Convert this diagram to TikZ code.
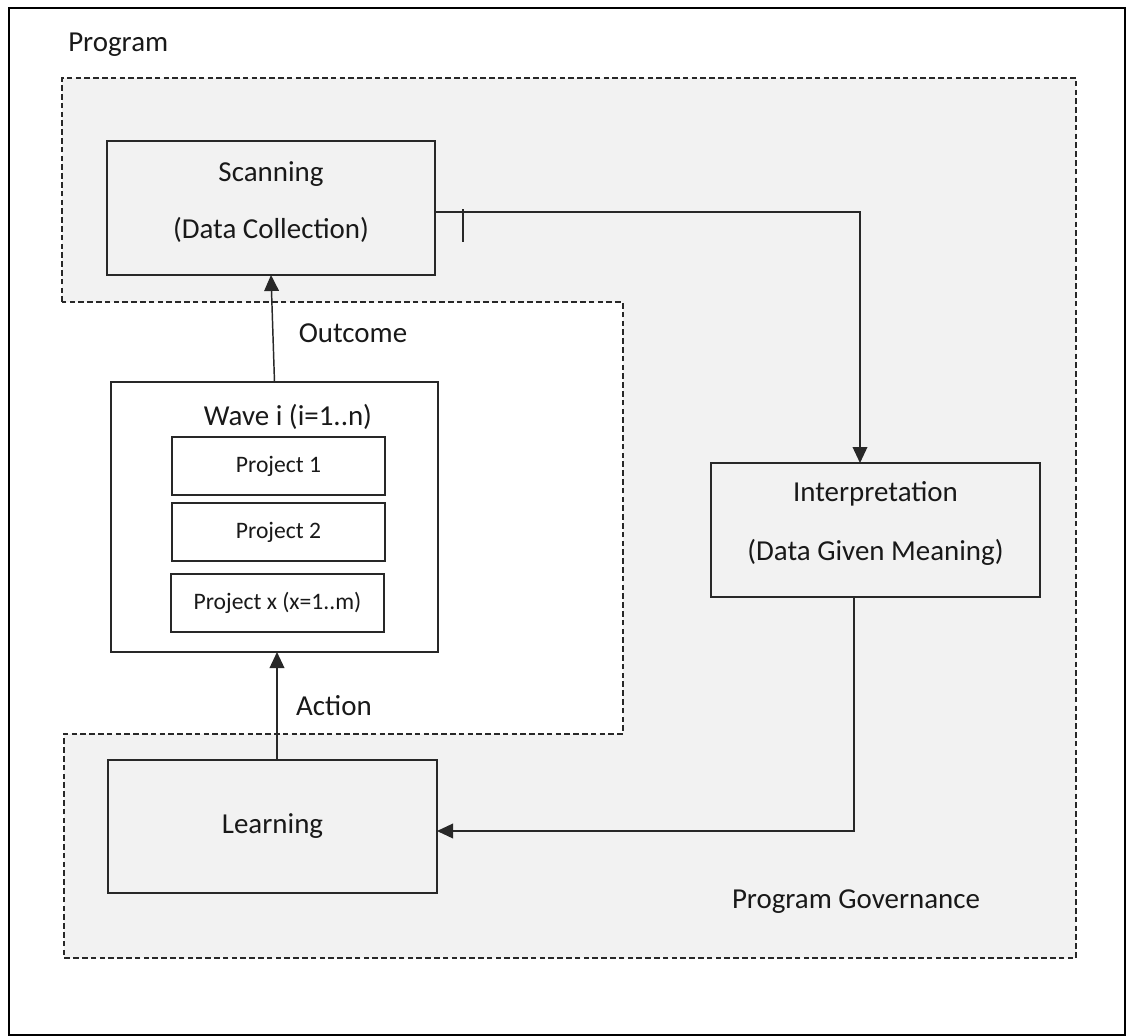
\documentclass[tikz,border=0pt]{standalone}
\usepackage{fontspec}
\setmainfont{Carlito}
\usetikzlibrary{arrows.meta}
\definecolor{panel}{RGB}{242,242,242}
\definecolor{ink}{RGB}{40,40,40}
\begin{document}
\begin{tikzpicture}[x=0.75pt,y=-0.75pt,
  box/.style={draw=ink, line width=1.1pt, inner sep=0pt, outer sep=0pt, align=center},
  big/.style={font=\fontsize{21.7pt}{26pt}\selectfont, text=black!90, inner sep=0pt},
  small/.style={font=\fontsize{17.7pt}{21pt}\selectfont, text=black!90},
  region/.style={draw=ink, fill=panel, line width=0.9pt, dash pattern=on 4.2pt off 2.4pt},
  conn/.style={draw=ink, line width=1.1pt},
  arr/.style={conn, -{Triangle[length=12pt,width=11pt]}}]
\useasboundingbox (0,0) rectangle (1129,1036);
\fill[white] (0,0) rectangle (1129,1036);
% outer frame
\draw[black, line width=1.2pt] (9,8) rectangle (1125,1035);
\draw[black, line width=2.2pt] (9,1035) -- (9,8) -- (1125,8);
% program region with white notch
\path[region] (62,302) -- (62,78) -- (1076,78) -- (1076,958) -- (64,958) -- (64,734) -- (623,734) -- (623,302) -- cycle;
% labels
\node[big, anchor=west] (lprog) at (68,45) {Program};
\node[big] (lout) at (353,333) {Outcome};
\node[big] (lact) at (334,706) {Action};
\node[big] (lgov) at (856,902) {Program Governance};
% boxes
\node[box, minimum width=328*0.75pt, minimum height=134*0.75pt] (scan) at (271,208) {};
\node[big] (scant1) at (271,174) {Scanning};
\node[big] (scant2) at (271,230) {(Data Collection)};
\node[box, minimum width=329*0.75pt, minimum height=134*0.75pt] (interp) at (875.5,530) {};
\node[big] (interpt1) at (875.5,494) {Interpretation};
\node[big] (interpt2) at (875.5,552) {(Data Given Meaning)};
\node[box, minimum width=329*0.75pt, minimum height=133*0.75pt, big] (learn) at (272.5,826.5) {Learning};
\node[box, fill=white, minimum width=327*0.75pt, minimum height=270*0.75pt] (wave) at (274.5,517) {};
\node[big] (wavet) at (288,417) {Wave i (i=1..n)};
\node[box, fill=white, minimum width=213*0.75pt, minimum height=58*0.75pt, small] (p1) at (278.5,466) {Project 1};
\node[box, fill=white, minimum width=213*0.75pt, minimum height=58*0.75pt, small] (p2) at (278.5,532) {Project 2};
\node[box, fill=white, minimum width=213*0.75pt, minimum height=58*0.75pt, small] (px) at (277.5,603) {Project x (x=1..m)};
% connectors
\coordinate (c1) at (860,212);
\coordinate (c2) at (854,831);
\coordinate (c3) at (277,700);
\coordinate (tk1) at (463,209);
\coordinate (tk2) at (463,242);
\draw[arr] (scan.east |- c1) -- (c1) -- (interp.north -| c1);
\draw[conn] (tk1) -- (tk2);
\draw[arr] (interp.south -| c2) -- (c2) -- (learn.east |- c2);
\draw[arr] (learn.north -| c3) -- (wave.south -| c3);
\draw[arr] (wave.north) -- (scan.south);
\end{tikzpicture}
\end{document}
